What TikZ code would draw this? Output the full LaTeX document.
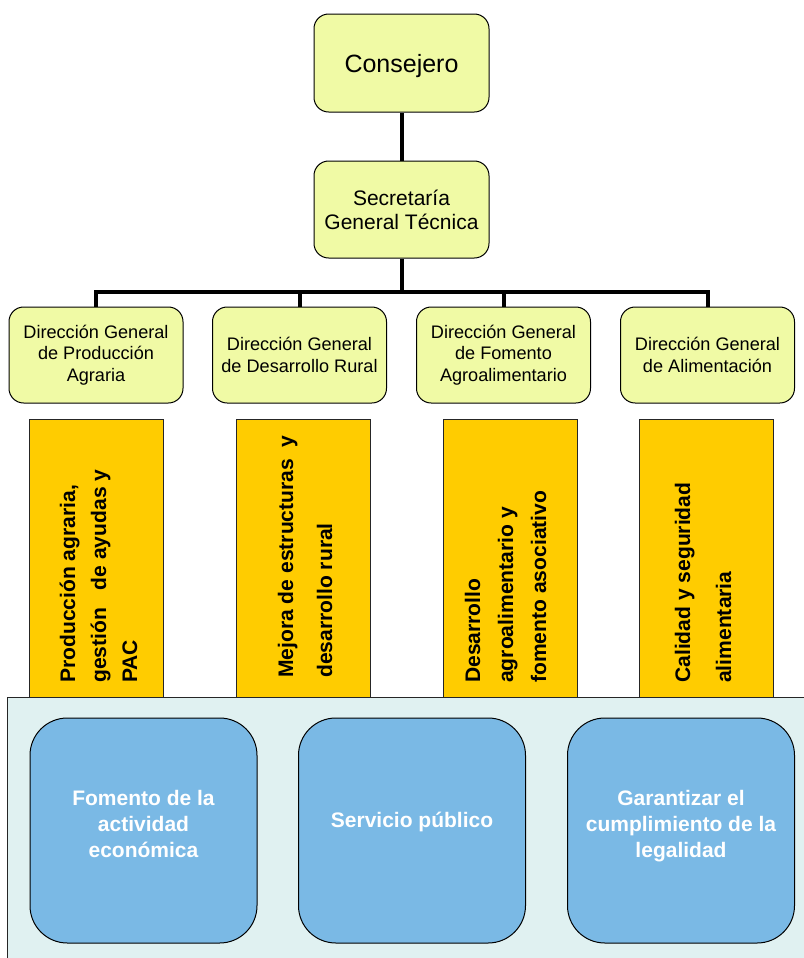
\documentclass[tikz,border=0pt]{standalone}
\usepackage{fontspec}
\setmainfont{Liberation Sans}
\definecolor{boxyellow}{RGB}{240,250,165}
\definecolor{barorange}{RGB}{255,204,0}
\definecolor{panelcyan}{RGB}{224,241,241}
\definecolor{boxblue}{RGB}{122,185,229}
\begin{document}
\begin{tikzpicture}[x=0.75pt,y=-0.75pt,
  ybox/.style={draw=black, line width=0.75pt, fill=boxyellow, rounded corners=11pt, inner sep=0pt, align=center},
  conn/.style={line width=3pt, black},
  obar/.style={draw=black!85, line width=0.75pt, fill=barorange, inner sep=0pt, minimum width=100.5pt, minimum height=208.5pt},
  otext/.style={rotate=90, anchor=north west, inner sep=0pt, align=left},
  bbox/.style={draw=black, line width=0.75pt, fill=boxblue, rounded corners=28pt, inner sep=0pt, minimum width=170.25pt, minimum height=168.75pt},
  btext/.style={text=white, font=\bfseries\fontsize{15.75}{19.3}\selectfont, align=center, inner sep=0pt},
  dgbox/.style={ybox, minimum width=130.5pt, minimum height=72pt, font=\fontsize{13.6}{16.3}\selectfont}
]
\useasboundingbox (0,0) rectangle (804,958);
% panel
\begin{scope}
\clip (0,0) rectangle (804,958);
\draw[draw=black!85, line width=0.75pt, fill=panelcyan] (7,697) rectangle (812,966);
\end{scope}
% top boxes
\node[ybox, minimum width=131.25pt, minimum height=73.5pt, text depth=0pt, font=\fontsize{18.75}{22}\selectfont] (cons) at (401.5,63) {Consejero};
\node[ybox, minimum width=131.25pt, minimum height=72.75pt, font=\fontsize{15.75}{18}\selectfont] (sec) at (401.5,209.5) {Secretaría\\General Técnica};
% DG boxes
\node[dgbox] (dg1) at (96,355) {Dirección General\\de Producción\\Agraria};
\node[dgbox] (dg2) at (299.5,355) {Dirección General\\de Desarrollo Rural};
\node[dgbox] (dg3) at (503.5,355) {Dirección General\\de Fomento\\Agroalimentario};
\node[dgbox] (dg4) at (707.5,355) {Dirección General\\de Alimentación};
% connectors
\coordinate (bus) at (401.5,292);
\draw[conn] (cons.south) -- (sec.north);
\draw[conn] (sec.south) -- (bus);
\draw[conn] (dg1.north) |- (dg4.north |- bus) -- (dg4.north);
\draw[conn] (dg2.north) -- (dg2.north |- bus);
\draw[conn] (dg3.north) -- (dg3.north |- bus);
% orange bars
\node[obar] (ob1) at (96,558) {};
\node[obar] (ob2) at (303,558) {};
\node[obar] (ob3) at (510,558) {};
\node[obar] (ob4) at (706,558) {};
\node[otext, font=\bfseries\fontsize{15.8}{23.25}\selectfont] (ot1) at (59.5,683) {Producción agraria,\\gestión\ \ \ de ayudas y\\PAC};
\node[otext, font=\bfseries\fontsize{15.8}{29.25}\selectfont] (ot2) at (277.5,678) {Mejora de estructuras\ \ y\\desarrollo rural};
\node[otext, font=\bfseries\fontsize{15.8}{24.75}\selectfont] (ot3) at (464.5,683) {Desarrollo\\agroalimentario y\\fomento asociativo};
\node[otext, font=\bfseries\fontsize{15.8}{30.75}\selectfont] (ot4) at (674.5,683) {Calidad y seguridad\\alimentaria};
% blue boxes
\node[bbox] (bb1) at (143.5,830.5) {};
\node[bbox] (bb2) at (412,830.5) {};
\node[bbox] (bb3) at (681,830.5) {};
\node[btext] (bt1) at (143.5,824) {Fomento de la\\actividad\\económica};
\node[btext] (bt2) at (412,822) {Servicio público};
\node[btext] (bt3) at (681,826) {Garantizar el\\cumplimiento de la\\legalidad};
\end{tikzpicture}
\end{document}
